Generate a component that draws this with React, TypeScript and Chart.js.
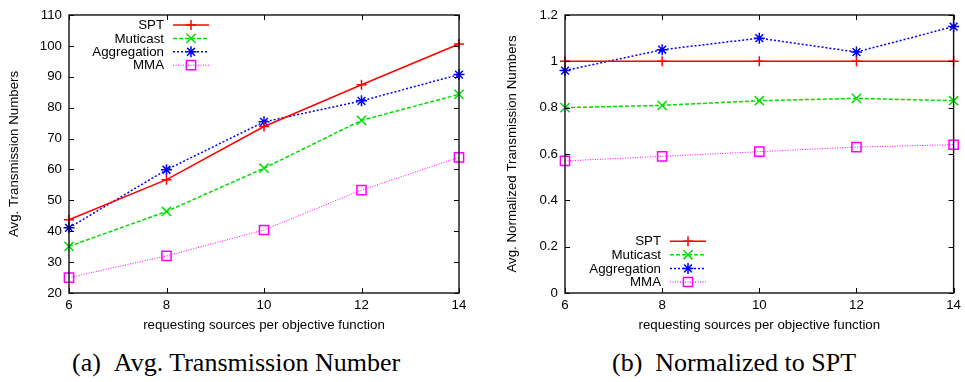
import React, { useEffect, useRef } from "react";
import { Chart, registerables } from "chart.js";
Chart.register(...registerables);

// ---- data ----
const xValues = [6, 8, 10, 12, 14];
const seriesNames = ["SPT", "Muticast", "Aggregation", "MMA"];
const sptAvg = [43.7, 56.7, 73.9, 87.4, 100.6];
const multicastAvg = [35.1, 46.4, 60.4, 75.9, 84.3];
const aggregationAvg = [41.1, 59.9, 75.4, 82.2, 90.7];
const mmaAvg = [25.0, 32.0, 40.4, 53.3, 63.9];
const sptNorm = [1, 1, 1, 1, 1];
const multicastNorm = [0.8, 0.81, 0.83, 0.84, 0.83];
const aggregationNorm = [0.96, 1.05, 1.1, 1.04, 1.15];
const mmaNorm = [0.57, 0.59, 0.61, 0.63, 0.64];
const xTitle = "requesting sources per objective function";
const yTitleA = "Avg. Transmission Numbers";
const yTitleB = "Avg. Normalized Transmission Numbers";
const captionA = "(a)\u00a0\u00a0Avg. Transmission Number";
const captionB = "(b)\u00a0\u00a0Normalized to SPT";

// ---- styles ----
const colors = ["#ff0000", "#00dd00", "#0000ff", "#ff00ff"];
const dashes = [[], [4, 2], [2, 2], [1, 1.5]];
const lineWidths = [1.5, 1.5, 1.5, 1];
const pointStyles = ["cross", "crossRot", "star", "rect"];
const pointRadii = [5, 6.5, 5.5, 6.5];
const FONT = "'Liberation Sans', Arial, sans-serif";
const FS = 13.3;

function drawMarker(ctx: CanvasRenderingContext2D, style: string, x: number, y: number, r: number) {
  ctx.beginPath();
  if (style === "cross" || style === "star") {
    ctx.moveTo(x - r, y);
    ctx.lineTo(x + r, y);
    ctx.moveTo(x, y - r);
    ctx.lineTo(x, y + r);
  }
  if (style === "crossRot" || style === "star") {
    const o = r * Math.SQRT1_2;
    ctx.moveTo(x - o, y - o);
    ctx.lineTo(x + o, y + o);
    ctx.moveTo(x - o, y + o);
    ctx.lineTo(x + o, y - o);
  }
  if (style === "rect") {
    const s = r * Math.SQRT1_2;
    ctx.rect(x - s, y - s, 2 * s, 2 * s);
  }
  ctx.stroke();
}

const gnuplotPlugin = {
  id: "gnuplotDecor",
  afterDatasetsDraw(chart: any, _args: any, opts: any) {
    const ctx = chart.ctx as CanvasRenderingContext2D;
    const { left, right, top, bottom } = chart.chartArea;
    ctx.save();
    ctx.strokeStyle = "#000";
    ctx.lineWidth = 1;
    ctx.setLineDash([]);
    const tl = 5;
    chart.scales.x.ticks.forEach((t: any) => {
      const px = Math.round(chart.scales.x.getPixelForValue(t.value)) + 0.5;
      ctx.beginPath();
      ctx.moveTo(px, bottom);
      ctx.lineTo(px, bottom - tl);
      ctx.moveTo(px, top);
      ctx.lineTo(px, top + tl);
      ctx.stroke();
    });
    chart.scales.y.ticks.forEach((t: any) => {
      const py = Math.round(chart.scales.y.getPixelForValue(t.value)) + 0.5;
      ctx.beginPath();
      ctx.moveTo(left, py);
      ctx.lineTo(left + tl, py);
      ctx.moveTo(right, py);
      ctx.lineTo(right - tl, py);
      ctx.stroke();
    });
    ctx.lineWidth = 1.4;
    ctx.strokeStyle = "#111";
    ctx.strokeRect(left, top, right - left, bottom - top);
    const lx = left + opts.textOffset;
    const ls = lx + 9;
    const le = ls + 36;
    ctx.font = FS + "px " + FONT;
    ctx.textAlign = "right";
    ctx.textBaseline = "middle";
    chart.data.datasets.forEach((ds: any, i: number) => {
      const y = opts.fromBottom
        ? bottom - opts.offsetY - (chart.data.datasets.length - 1 - i) * opts.rowH
        : top + opts.offsetY + i * opts.rowH;
      ctx.fillStyle = "#000";
      ctx.fillText(ds.label, lx, y + 0.5);
      ctx.strokeStyle = ds.borderColor;
      ctx.lineWidth = ds.borderWidth;
      ctx.setLineDash(ds.borderDash || []);
      ctx.beginPath();
      ctx.moveTo(ls, y);
      ctx.lineTo(le, y);
      ctx.stroke();
      ctx.setLineDash([]);
      ctx.lineWidth = 1.5;
      drawMarker(ctx, ds.pointStyle, (ls + le) / 2, y, ds.pointRadius);
    });
    ctx.restore();
  },
};

function makeDatasets(values: number[][]) {
  return values.map((vals, i) => ({
    label: seriesNames[i],
    data: xValues.map((x, j) => ({ x, y: vals[j] })),
    borderColor: colors[i],
    borderWidth: lineWidths[i],
    borderDash: dashes[i],
    pointStyle: pointStyles[i],
    pointRadius: pointRadii[i],
    pointBorderColor: colors[i],
    pointBorderWidth: 1.5,
    pointBackgroundColor: "rgba(0,0,0,0)",
    tension: 0,
    fill: false,
    clip: false,
  }));
}

interface PanelProps {
  width: number;
  height: number;
  values: number[][];
  yMin: number;
  yMax: number;
  yStep: number;
  yTitle: string;
  yAxisWidth: number;
  yTitlePad: number;
  padRight: number;
  legend: any;
}

function Panel(p: PanelProps) {
  const ref = useRef<HTMLCanvasElement | null>(null);
  useEffect(() => {
    if (!ref.current) return;
    const chart = new Chart(ref.current, {
      type: "line",
      data: { datasets: makeDatasets(p.values) as any },
      plugins: [gnuplotPlugin as any],
      options: {
        animation: false,
        responsive: false,
        devicePixelRatio: 1,
        layout: { padding: { left: 0, right: p.padRight, top: 13, bottom: 0 } },
        plugins: {
          legend: { display: false },
          tooltip: { enabled: false },
          gnuplotDecor: p.legend,
        } as any,
        scales: {
          x: {
            type: "linear",
            min: 6,
            max: 14,
            ticks: { stepSize: 2, color: "#000", font: { family: FONT, size: FS }, padding: 4 },
            grid: { display: false, drawTicks: false },
            border: { display: false },
            title: { display: true, text: xTitle, color: "#000", font: { family: FONT, size: FS }, padding: { top: 0, bottom: 7 } },
            afterFit: (s: any) => { s.height = 47; },
          },
          y: {
            type: "linear",
            min: p.yMin,
            max: p.yMax,
            ticks: {
              stepSize: p.yStep,
              color: "#000",
              font: { family: FONT, size: FS },
              padding: 7,
              callback: (v: any) => String(Number(Number(v).toFixed(1))),
            },
            grid: { display: false, drawTicks: false },
            border: { display: false },
            title: { display: true, text: p.yTitle, color: "#000", font: { family: FONT, size: FS }, padding: { top: p.yTitlePad, bottom: 0 } },
            afterFit: (s: any) => { s.width = p.yAxisWidth; },
          },
        } as any,
      },
    });
    return () => chart.destroy();
  }, []);
  return <canvas ref={ref} width={p.width} height={p.height} style={{ width: p.width, height: p.height, display: "block" }} />;
}

export default function App() {
  const captionStyle: React.CSSProperties = {
    position: "absolute",
    top: 350,
    fontFamily: "'Liberation Serif', 'Times New Roman', serif",
    fontSize: 26,
    lineHeight: "26px",
    color: "#000",
    whiteSpace: "nowrap",
  };
  return (
    <div style={{ position: "absolute", left: 0, top: 0, width: 965, height: 382, background: "#fff" }}>
      <div style={{ position: "absolute", left: 0, top: 0 }}>
        <Panel
          width={482}
          height={340}
          values={[sptAvg, multicastAvg, aggregationAvg, mmaAvg]}
          yMin={20}
          yMax={110}
          yStep={10}
          yTitle={yTitleA}
          yAxisWidth={69}
          yTitlePad={6}
          padRight={23}
          legend={{ textOffset: 95, offsetY: 10, rowH: 13.4, fromBottom: false }}
        />
      </div>
      <div style={{ position: "absolute", left: 482, top: 0 }}>
        <Panel
          width={483}
          height={340}
          values={[sptNorm, multicastNorm, aggregationNorm, mmaNorm]}
          yMin={0}
          yMax={1.2}
          yStep={0.2}
          yTitle={yTitleB}
          yAxisWidth={83}
          yTitlePad={22}
          padRight={11}
          legend={{ textOffset: 96, offsetY: 11, rowH: 13.6, fromBottom: true }}
        />
      </div>
      <div style={{ ...captionStyle, left: 72 }}>{captionA}</div>
      <div style={{ ...captionStyle, left: 612 }}>{captionB}</div>
    </div>
  );
}
